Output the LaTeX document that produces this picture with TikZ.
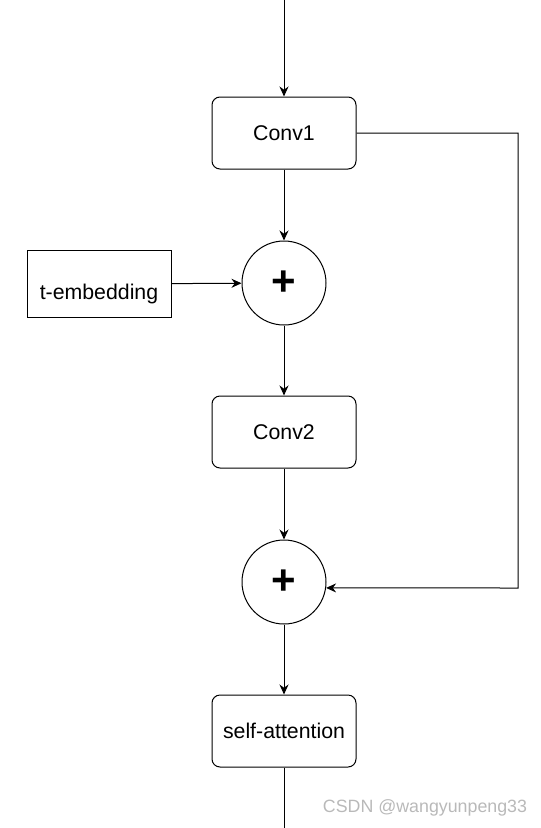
\documentclass[tikz,border=0pt]{standalone}
\usepackage{fontspec}
\setmainfont{Liberation Sans}
\usetikzlibrary{arrows.meta}
\tikzset{
  block/.style={draw, rounded corners=8pt, line width=1pt, minimum width=144pt, minimum height=72pt, inner sep=0pt, font=\fontsize{21.3}{24}\selectfont},
  plainbox/.style={draw, line width=1pt, minimum width=144pt, minimum height=67pt, inner sep=0pt, font=\fontsize{21.3}{24}\selectfont},
  adder/.style={draw, circle, line width=1pt, minimum size=84pt, inner sep=0pt, font=\fontsize{42}{42}\selectfont\bfseries}
}
\begin{document}
\begin{tikzpicture}[x=1pt,y=-1pt,>={Stealth[length=10pt,width=9pt]}]
  \useasboundingbox (0,0) rectangle (541,828);
  \coordinate (In) at (284,0);
  \coordinate (Out) at (284,828);

  % Blocks
  \node[block] (conv1) at (284,133) {Conv1};
  \node[adder] (add1) at (284,283) {+};
  \node[plainbox, text height=33pt, text depth=3pt] (temb) at (99,284) {t-embedding};
  \node[block] (conv2) at (284,432) {Conv2};
  \node[adder] (add2) at (284,582) {+};
  \node[block] (attn) at (284,731) {self-attention};

  % Main path
  \draw[->, line width=1pt] (In) -- (conv1);
  \draw[->, line width=1pt] (conv1) -- (add1);
  \draw[->, line width=1pt] (temb) -- (add1);
  \draw[->, line width=1pt] (add1) -- (conv2);
  \draw[->, line width=1pt] (conv2) -- (add2);
  \draw[->, line width=1pt] (add2) -- (attn);
  \draw[line width=1pt] (attn) -- (Out);

  % Skip connection
  \coordinate (S1) at (518,133);
  \coordinate (S2) at (518,588);
  \draw[->, line width=1pt] (conv1.east) -- (S1) -- (S2) -- (add2.-8);

  % Watermark
  \node[text=gray!55, font=\fontsize{17.8}{20}\selectfont] (mark) at (425,808) {CSDN @wangyunpeng33};
\end{tikzpicture}
\end{document}
